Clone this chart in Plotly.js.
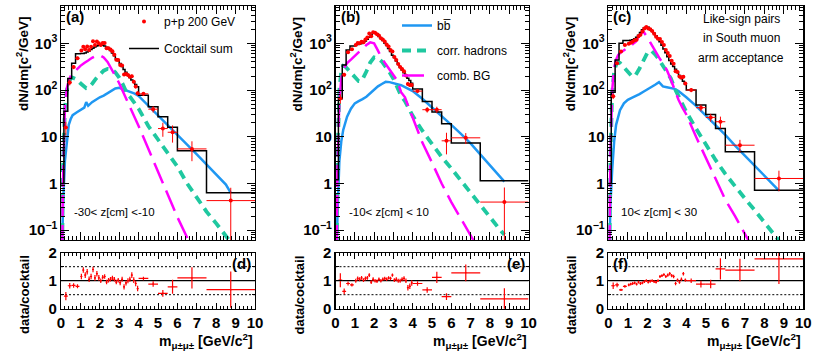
<!DOCTYPE html>
<html>
<head>
<meta charset="utf-8">
<script src="https://cdn.plot.ly/plotly-3.0.1.min.js"></script>
<style>
  html, body { margin: 0; padding: 0; background: #fff; }
  #chart { width: 822px; height: 354px; }
</style>
</head>
<body>
<div id="chart"></div>
<script>
// cocktail histogram bin edges (GeV/c^2)
const binEdges = [0, 0.15, 0.35, 0.55, 0.75, 1.0, 1.1, 1.2, 1.3, 1.4, 1.5, 1.6, 1.7, 1.8, 1.9,
	2.0, 2.1, 2.2, 2.3, 2.4, 2.5, 2.6, 2.7, 2.8, 2.9, 3.0, 3.1, 3.2, 3.3, 3.4, 3.5, 3.6, 3.7, 3.8, 3.9,
	4.0, 4.5, 5.0, 5.5, 6.0, 7.5, 10];

// data points (bin centres and half widths)
const dataMass = [0.25, 0.45, 0.65, 0.85,
	1.05, 1.15, 1.25, 1.35, 1.45, 1.55, 1.65, 1.75, 1.85, 1.95,
	2.05, 2.15, 2.25, 2.35, 2.45, 2.55, 2.65, 2.75, 2.85, 2.95,
	3.05, 3.15, 3.25, 3.35, 3.45, 3.55, 3.65, 3.75, 3.85, 3.95,
	4.25, 4.75, 5.25, 5.75, 6.75, 8.75];
const dataHalfWidth = [0.1, 0.1, 0.1, 0.1,
	0.05, 0.05, 0.05, 0.05, 0.05, 0.05, 0.05, 0.05, 0.05, 0.05,
	0.05, 0.05, 0.05, 0.05, 0.05, 0.05, 0.05, 0.05, 0.05, 0.05,
	0.05, 0.05, 0.05, 0.05, 0.05, 0.05, 0.05, 0.05, 0.05, 0.05,
	0.25, 0.25, 0.25, 0.25, 0.75, 1.25];

// mass grid of the simulated components
const massGrid = [0.05, 0.1, 0.2, 0.3, 0.4, 0.5, 0.6, 0.8, 1.0, 1.2, 1.3, 1.4, 1.6, 1.8, 2.0, 2.2, 2.4, 2.6,
	2.8, 3.0, 3.2, 3.4, 3.6, 3.8, 4.0, 4.5, 5.0, 5.5, 6.0, 6.5, 7.0, 7.5, 8.0, 8.5, 8.75];

// (a) -30 < z < -10
const cockA = [1, 35, 178, 373, 600,
	610, 610, 620, 650, 690, 740, 790, 840, 880, 910,
	920, 910, 880, 830, 770, 700, 620, 540, 470, 430,
	370, 320, 275, 240, 210, 185, 165, 148, 132, 118,
	77, 44, 27, 16, 5, 0.63];
const dataA = [15.8, 146, 310, 480,
	702, 842, 744, 858, 725, 851, 1106, 924, 1100, 1001,
	920, 1019, 1012, 789, 785, 735, 682, 567, 447, 439,
	344, 336, 215, 221, 210, 194, 198, 151, 119, 85,
	83, 39, 15, 12.5, 5.5, 0.43];
const dataErrA = [5, 20, 30, 40,
	50, 60, 55, 60, 55, 60, 75, 65, 75, 70,
	60, 65, 65, 55, 55, 50, 48, 40, 32, 30,
	25, 25, 16, 17, 16, 15, 17, 13, 11, 9,
	8, 6, 5, 5, 2.5, 0.38];
const ratA = [0.45, 0.82, 0.83, 0.8,
	1.15, 1.38, 1.2, 1.32, 1.05, 1.15, 1.4, 1.1, 1.25, 1.1,
	1.0, 1.12, 1.15, 0.95, 1.02, 1.05, 1.1, 1.05, 0.95, 1.02,
	0.93, 1.05, 0.78, 0.92, 1.0, 1.05, 1.2, 1.02, 0.9, 0.72,
	1.08, 0.88, 0.55, 0.78, 1.1, 0.68];
const ratErrA = [0.15, 0.1, 0.08, 0.07,
	0.1, 0.1, 0.1, 0.1, 0.1, 0.1, 0.1, 0.1, 0.1, 0.1,
	0.08, 0.08, 0.08, 0.08, 0.08, 0.08, 0.08, 0.08, 0.08, 0.08,
	0.09, 0.09, 0.09, 0.09, 0.09, 0.09, 0.1, 0.1, 0.1, 0.1,
	0.06, 0.1, 0.12, 0.25, 0.38, 0.65];
const bbA = [0.02, 0.3, 3, 8, 18, 24, 29, 33, 37, 42, 55, 46, 55, 63, 70, 76, 85, 93,
	108, 112, 104, 100, 92, 84, 75, 46, 28, 18, 11, 6.8, 4.2, 2.6, 1.6, 0.95, 0.63];
const hadA = [0.01, 2, 40, 100, 150, 175, 185, 170, 140, 115, 110, 112, 135, 175, 220, 260, 285, 280,
	240, 185, 130, 85, 68, 52, 40, 17, 8.5, 4.3, 2.3, 1.0, 0.5, 0.25, 0.14, 0.075, 0.055];
const combA = [0.01, 1, 40, 110, 160, 200, 225, 280, 330, 380, 400, 430, 490, 540, 560, 500, 400, 290,
	200, 140, 90, 60, 38, 26, 17, 5.5, 1.8, 0.55, 0.19, 0.07, 0.025, 0.01, 0.004, 0.0015, 0.001];

// (b) -10 < z < 10
const cockB = [1.2, 65, 345, 720, 880,
	920, 940, 960, 990, 1040, 1120, 1220, 1350, 1500, 1640,
	1680, 1600, 1400, 1280, 1150, 1020, 900, 780, 670, 560,
	500, 420, 360, 310, 270, 235, 205, 180, 160, 140,
	105, 57, 34, 19, 7.4, 1.15];
const dataB = [66, 214, 648, 748,
	920, 1015, 1008, 1089, 1061, 1210, 1342, 1620, 1425, 1722,
	1680, 1568, 1470, 1280, 1208, 1102, 945, 858, 724, 672,
	510, 441, 360, 310, 284, 254, 205, 135, 128, 129,
	95, 38, 38, 8.2, 9.5, 0.4];
const dataErrB = [15, 20, 35, 40,
	55, 60, 60, 60, 60, 65, 70, 80, 75, 85,
	80, 80, 80, 75, 70, 65, 60, 55, 45, 45,
	32, 28, 24, 20, 19, 17, 15, 11, 10, 10,
	8, 5, 6, 4, 2.5, 0.42];
const ratB = [1.02, 0.62, 0.9, 0.85,
	1.0, 1.08, 1.05, 1.1, 1.02, 1.08, 1.1, 1.2, 0.95, 1.05,
	1.0, 0.98, 1.05, 1.0, 1.05, 1.08, 1.05, 1.1, 1.08, 1.2,
	1.02, 1.05, 1.0, 1.0, 1.05, 1.08, 1.0, 0.75, 0.8, 0.92,
	0.9, 0.67, 1.12, 0.43, 1.28, 0.35];
const ratErrB = [0.25, 0.1, 0.07, 0.06,
	0.07, 0.07, 0.07, 0.07, 0.07, 0.07, 0.07, 0.07, 0.07, 0.07,
	0.06, 0.06, 0.06, 0.06, 0.06, 0.06, 0.06, 0.06, 0.06, 0.06,
	0.07, 0.07, 0.07, 0.07, 0.07, 0.08, 0.08, 0.1, 0.1, 0.1,
	0.08, 0.1, 0.2, 0.12, 0.3, 0.38];
const bbB = [0.01, 0.2, 3, 8, 14, 20, 27, 40, 52, 58, 62, 64, 72, 85, 105, 120, 135, 150,
	148, 142, 135, 127, 116, 104, 95, 65, 43, 28, 18, 11.5, 7.2, 4.2, 2.5, 1.45, 1.1];
const hadB = [0.01, 3, 100, 260, 330, 320, 290, 235, 190, 155, 155, 170, 250, 390, 500, 480, 410, 320,
	240, 175, 120, 75, 58, 40, 28, 13.5, 7, 3.7, 2.1, 1.15, 0.6, 0.34, 0.19, 0.105, 0.08];
const combB = [0.01, 2, 60, 170, 280, 340, 380, 450, 540, 630, 690, 760, 920, 1050, 1000, 700, 480, 360,
	280, 210, 160, 90, 70, 42, 26, 7.5, 2.8, 1.0, 0.4, 0.17, 0.075, 0.033, 0.015, 0.007, 0.005];

// (c) 10 < z < 30
const cockC = [1, 90, 440, 1000, 1150,
	1150, 1170, 1200, 1260, 1350, 1500, 1700, 1950, 2150, 2250,
	2200, 2050, 1850, 1650, 1450, 1260, 1080, 910, 760, 630,
	520, 430, 360, 320, 280, 240, 205, 178, 155, 135,
	100, 48, 30, 15, 4.8, 0.72];
const dataC = [74, 374, 670, 920,
	978, 1030, 1080, 1159, 1188, 1425, 1530, 1794, 2086, 2250,
	2090, 2009, 1850, 1600, 1378, 1260, 1242, 1074, 927, 725,
	624, 538, 425, 368, 252, 245, 195, 187, 194, 138,
	100, 42, 26, 21, 6.6, 1.28];
const dataErrC = [10, 25, 30, 45,
	50, 55, 55, 60, 60, 70, 75, 85, 95, 100,
	95, 90, 85, 80, 70, 65, 65, 60, 55, 45,
	40, 35, 30, 26, 20, 19, 16, 16, 16, 12,
	10, 7, 5, 6, 2, 0.6];
const ratC = [0.82, 0.85, 0.67, 0.8,
	0.85, 0.88, 0.9, 0.92, 0.88, 0.95, 0.9, 0.92, 0.97, 1.0,
	0.95, 0.98, 1.0, 0.97, 0.95, 1.0, 1.15, 1.18, 1.22, 1.15,
	1.2, 1.25, 1.18, 1.15, 0.9, 1.02, 0.95, 1.05, 1.25, 1.02,
	1.0, 0.88, 0.88, 1.42, 1.38, 1.78];
const ratErrC = [0.12, 0.08, 0.04, 0.05,
	0.05, 0.05, 0.05, 0.05, 0.05, 0.05, 0.05, 0.05, 0.05, 0.05,
	0.05, 0.05, 0.05, 0.05, 0.05, 0.05, 0.05, 0.05, 0.05, 0.05,
	0.06, 0.06, 0.06, 0.06, 0.06, 0.06, 0.06, 0.06, 0.06, 0.06,
	0.08, 0.12, 0.15, 0.38, 0.4, 0.9];
const bbC = [0.01, 0.3, 2, 8, 18, 28, 37, 52, 62, 68, 71, 75, 82, 92, 102, 115, 130, 148,
	120, 115, 112, 106, 95, 82, 70, 46, 29, 18, 11, 6.5, 4, 2.5, 1.5, 0.9, 0.7];
const hadC = [0.01, 3, 90, 250, 350, 390, 380, 310, 240, 200, 195, 210, 290, 430, 620, 700, 580, 450,
	340, 250, 180, 110, 75, 52, 34, 15, 6.8, 3.2, 1.6, 0.85, 0.48, 0.27, 0.15, 0.08, 0.06];
const combC = [0.01, 3, 100, 300, 450, 560, 620, 700, 800, 920, 1000, 1080, 1500, 1800, 1350, 950, 700, 500,
	370, 270, 170, 100, 62, 42, 30, 10, 3.5, 1.2, 0.45, 0.2, 0.085, 0.035, 0.015, 0.006, 0.004];

const ratioRefs = [0.5, 1, 1.5];
const zLabels = ['-30< z[cm] <-10', '-10< z[cm] < 10', '10< z[cm] < 30'];
const noteLines = ['Like-sign pairs', 'in South muon', 'arm acceptance'];

const FONT = 'Liberation Sans, Arial, sans-serif';
const RED = '#ff0000';
const BLUE = '#1f97f2';
const GREEN = '#1fc8a0';
const MAGENTA = '#ff00ff';

const px = v => v / 822;
const py = v => 1 - v / 354;

const panels = [
	{top: 'a', low: 'd', left: 61, right: 255, cock: cockA, data: dataA, dataErr: dataErrA, rat: ratA, ratErr: ratErrA, bb: bbA, had: hadA, comb: combA, lowLabelRight: true},
	{top: 'b', low: 'e', left: 335.5, right: 528.5, cock: cockB, data: dataB, dataErr: dataErrB, rat: ratB, ratErr: ratErrB, bb: bbB, had: hadB, comb: combB, lowLabelRight: true},
	{top: 'c', low: 'f', left: 608.3, right: 803.3, cock: cockC, data: dataC, dataErr: dataErrC, rat: ratC, ratErr: ratErrC, bb: bbC, had: hadC, comb: combC, lowLabelRight: false},
];

var data = [];
var layout = {
	width: 822,
	height: 354,
	margin: {l: 0, r: 0, t: 0, b: 0},
	paper_bgcolor: 'white',
	plot_bgcolor: 'white',
	font: {family: FONT, color: 'black'},
	showlegend: true,
	annotations: [],
	shapes: [],
	legend: {
		x: px(124), y: py(7), xanchor: 'left', yanchor: 'top',
		bgcolor: 'rgba(0,0,0,0)', font: {family: FONT, size: 12, color: 'black'},
		tracegroupgap: 8, itemwidth: 30,
	},
	legend2: {
		x: px(397), y: py(11), xanchor: 'left', yanchor: 'top',
		bgcolor: 'rgba(0,0,0,0)', font: {family: FONT, size: 12, color: 'black'},
		tracegroupgap: 6, itemwidth: 30,
	},
};

const topY = [py(240), py(6)];
const lowY = [py(308.7), py(252.7)];

panels.forEach(function (p, i) {
	var tx = i === 0 ? 'x' : 'x' + (i + 1);
	var ty = i === 0 ? 'y' : 'y' + (i + 1);
	var lx = 'x' + (i + 4);
	var ly = 'y' + (i + 4);
	var dom = [px(p.left), px(p.right)];

	var common = {
		showline: true, linecolor: 'black', linewidth: 1.2, mirror: 'allticks',
		ticks: 'inside', tickcolor: 'black', tickwidth: 1, showgrid: false, zeroline: false,
	};

	layout['xaxis' + (i === 0 ? '' : i + 1)] = Object.assign({}, common, {
		domain: dom, anchor: ty, range: [0, 10], dtick: 1, ticklen: 8,
		showticklabels: false,
		minor: {ticks: 'inside', ticklen: 4, dtick: 0.2, tickcolor: 'black'},
	});
	layout['yaxis' + (i === 0 ? '' : i + 1)] = Object.assign({}, common, {
		domain: topY, anchor: tx, type: 'log', range: [-1.21, 3.8], dtick: 1, ticklen: 8,
		exponentformat: 'power',
		tickfont: {family: FONT, size: 12, weight: 'bold'},
		minor: {ticks: 'inside', ticklen: 4, tickcolor: 'black'},
	});
	layout['xaxis' + (i + 4)] = Object.assign({}, common, {
		domain: dom, anchor: ly, range: [0, 10], dtick: 1, ticklen: 6, tickangle: 0,
		tickfont: {family: FONT, size: 15, weight: 'bold'},
		minor: {ticks: 'inside', ticklen: 3, dtick: 0.2, tickcolor: 'black'},
	});
	layout['yaxis' + (i + 4)] = Object.assign({}, common, {
		domain: lowY, anchor: lx, range: [0, 2], dtick: 1, ticklen: 6,
		tickfont: {family: FONT, size: 15, weight: 'bold'},
		minor: {ticks: 'inside', ticklen: 3, dtick: 0.5, tickcolor: 'black'},
	});

	// simulated components
	data.push({
		x: massGrid, y: p.bb, xaxis: tx, yaxis: ty, mode: 'lines', type: 'scatter',
		name: 'bb\u0305', legend: 'legend2', legendgroup: 'bb', legendrank: 1, showlegend: i === 1,
		line: {color: BLUE, width: 2.5},
	});
	data.push({
		x: massGrid, y: p.had, xaxis: tx, yaxis: ty, mode: 'lines', type: 'scatter',
		name: 'corr. hadrons', legend: 'legend2', legendgroup: 'had', legendrank: 2, showlegend: i === 1,
		line: {color: GREEN, width: 3.8, dash: '9px,6px'},
	});
	data.push({
		x: massGrid, y: p.comb, xaxis: tx, yaxis: ty, mode: 'lines', type: 'scatter',
		name: 'comb. BG', legend: 'legend2', legendgroup: 'comb', legendrank: 3, showlegend: i === 1,
		line: {color: MAGENTA, width: 2.5, dash: '22px,8px'},
	});

	// cocktail sum histogram
	data.push({
		x: binEdges, y: p.cock.concat([p.cock[p.cock.length - 1]]), xaxis: tx, yaxis: ty,
		mode: 'lines', type: 'scatter', name: 'Cocktail sum', legend: 'legend', legendgroup: 'cs',
		legendrank: 2, showlegend: i === 0,
		line: {color: 'black', width: 1.5, shape: 'hv'},
	});

	// p+p data
	data.push({
		x: dataMass, y: p.data, xaxis: tx, yaxis: ty, mode: 'markers', type: 'scatter',
		name: 'p+p 200 GeV', legend: 'legend', legendgroup: 'pp', legendrank: 1, showlegend: i === 0,
		marker: {color: RED, size: 4},
		error_y: {type: 'data', array: p.dataErr, color: RED, thickness: 1, width: 0},
		error_x: {type: 'data', array: dataHalfWidth, color: RED, thickness: 1, width: 0},
	});

	// ratio
	data.push({
		x: dataMass, y: p.rat, xaxis: lx, yaxis: ly, mode: 'markers', type: 'scatter',
		showlegend: false, marker: {color: RED, size: 1.5},
		error_y: {type: 'data', array: p.ratErr, color: RED, thickness: 1.2, width: 0},
		error_x: {type: 'data', array: dataHalfWidth, color: RED, thickness: 1.2, width: 0},
	});

	ratioRefs.forEach(function (r) {
		layout.shapes.push({
			type: 'line', xref: lx + ' domain', yref: ly, x0: 0, x1: 1, y0: r, y1: r, layer: 'below',
			line: {color: 'black', width: r === 1 ? 1.2 : 1, dash: r === 1 ? 'solid' : '2px,2px'},
		});
	});

	// texts
	layout.annotations.push({
		text: '<b>(' + p.top + ')</b>', xref: 'paper', yref: 'paper', x: px(p.left + 3), y: py(17),
		xanchor: 'left', yanchor: 'middle', showarrow: false, font: {size: 15},
	});
	layout.annotations.push({
		text: '<b>(' + p.low + ')</b>', xref: 'paper', yref: 'paper',
		x: p.lowLabelRight ? px(p.right - 2) : px(p.left + 3), y: py(263),
		xanchor: p.lowLabelRight ? 'right' : 'left', yanchor: 'middle', showarrow: false, font: {size: 15},
	});
	layout.annotations.push({
		text: zLabels[i], xref: 'paper', yref: 'paper', x: px(p.left + 11), y: py(212),
		xanchor: 'left', yanchor: 'middle', showarrow: false, font: {size: 11.5},
	});
	layout.annotations.push({
		text: '<b>dN/dm[c<sup>2</sup>/GeV]</b>', xref: 'paper', yref: 'paper', x: px(p.left - 39), y: py(64),
		xanchor: 'center', yanchor: 'middle', textangle: -90, showarrow: false, font: {size: 13.5},
	});
	layout.annotations.push({
		text: '<b>data/cocktail</b>', xref: 'paper', yref: 'paper', x: px(p.left - 37), y: py(295),
		xanchor: 'center', yanchor: 'middle', textangle: -90, showarrow: false, font: {size: 13},
	});
	layout.annotations.push({
		text: '<b>m<sub>\u03bc\u00b1\u03bc\u00b1</sub> [GeV/c<sup>2</sup>]</b>', xref: 'paper', yref: 'paper',
		x: px(p.right), y: py(341), xanchor: 'right', yanchor: 'middle', showarrow: false, font: {size: 14},
	});
});

noteLines.forEach(function (t, k) {
	layout.annotations.push({
		text: t, xref: 'paper', yref: 'paper', x: px(741), y: py(19 + k * 19.5),
		xanchor: 'center', yanchor: 'middle', showarrow: false, font: {size: 12},
	});
});

var config = {staticPlot: true, displayModeBar: false};

Plotly.newPlot('chart', data, layout, config);
</script>
</body>
</html>
